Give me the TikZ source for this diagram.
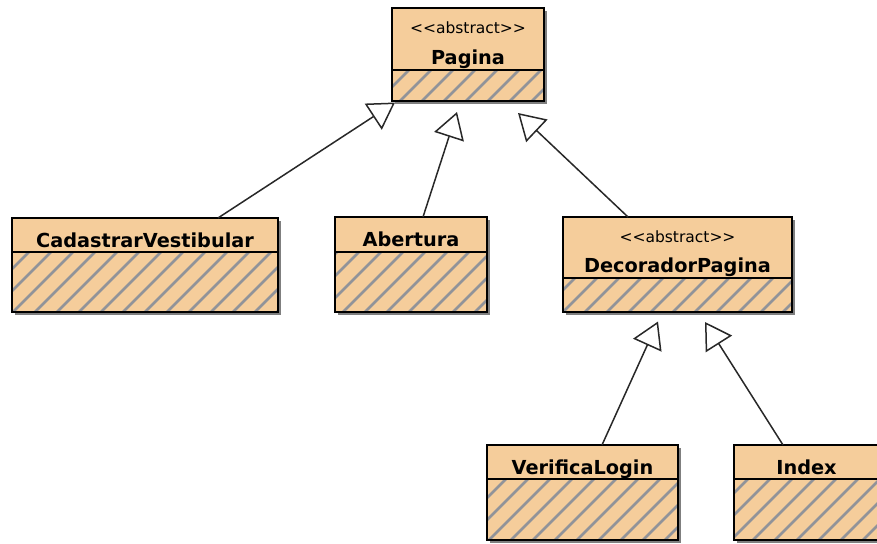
\documentclass[tikz,border=0pt]{standalone}
\usepackage{fontspec}
\setmainfont{DejaVu Sans}
\usetikzlibrary{arrows.meta,calc,shadows}

\definecolor{classfill}{RGB}{245,205,155}
\definecolor{hatchgray}{RGB}{145,147,153}
\definecolor{edgegray}{RGB}{40,40,40}

\tikzset{
  umlbox/.style={fill=classfill, inner sep=0pt, outer sep=0pt,
    drop shadow={shadow xshift=3pt, shadow yshift=-3pt, fill=black, opacity=.5}},
  clsname/.style={font=\bfseries\fontsize{19.3}{19}\selectfont, inner sep=0pt, anchor=base},
  stereo/.style={font=\fontsize{15.5}{16}\selectfont, inner sep=0pt, anchor=base},
  hatchline/.style={draw=hatchgray, line width=2.6pt},
  boxline/.style={draw=black, line width=1.5pt},
  gen/.style={draw=edgegray, line width=1.5pt,
    -{Triangle[length=26pt, width=31pt, fill=white]}},
}

% hatched attribute compartment of a class box: #1 node name, #2 divider offset from top
\newcommand{\classbody}[2]{%
  \begin{scope}
    \clip ($(#1.north west)+(0,#2)$) rectangle (#1.south east);
    \foreach \c in {17,39,...,1450} {
      \draw[hatchline] (\c,0) -- ({\c-600},600);
    }
  \end{scope}
  \draw[boxline] ($(#1.north west)+(0,#2)$) -- ($(#1.north east)+(0,#2)$);
  \draw[boxline] (#1.north west) rectangle (#1.south east);
}

\newcommand{\stereotype}[1]{{<}{<}#1{>}{>}}

\begin{document}
\begin{tikzpicture}[x=1pt, y=-1pt]
  \clip (0,0) rectangle (877,543);
  \fill[white] (0,0) rectangle (877,543);

  % class boxes
  \node[umlbox, minimum width=152pt, minimum height=93pt] (pag) at (468,54.5) {};
  \node[umlbox, minimum width=266pt, minimum height=94pt] (cv)  at (145,265) {};
  \node[umlbox, minimum width=152pt, minimum height=95pt] (ab)  at (411,264.5) {};
  \node[umlbox, minimum width=229pt, minimum height=95pt] (dp)  at (677.5,264.5) {};
  \node[umlbox, minimum width=191pt, minimum height=95pt] (vl)  at (582.5,492.5) {};
  \node[umlbox, minimum width=145pt, minimum height=95pt] (ix)  at (806.5,492.5) {};

  \classbody{pag}{62}
  \classbody{cv}{34}
  \classbody{ab}{35}
  \classbody{dp}{61}
  \classbody{vl}{34}
  \classbody{ix}{34}

  % class headers
  \node[stereo]  (pagS) at ($(pag.north)+(0,26)$) {\stereotype{abstract}};
  \node[clsname] (pagN) at ($(pag.north)+(0,56)$) {Pagina};
  \node[clsname] (cvN)  at ($(cv.north)+(0,29)$)  {CadastrarVestibular};
  \node[clsname] (abN)  at ($(ab.north)+(0,29)$)  {Abertura};
  \node[stereo]  (dpS)  at ($(dp.north)+(0,25)$)  {\stereotype{abstract}};
  \node[clsname] (dpN)  at ($(dp.north)+(0,55)$)  {DecoradorPagina};
  \node[clsname] (vlN)  at ($(vl.north)+(0,29)$)  {VerificaLogin};
  \node[clsname] (ixN)  at ($(ix.north)+(0,29)$)  {Index};

  % generalizations
  \draw[gen] ($(cv.north)+(73,0)$)    -- ($(pag.south west)+(3,1.5)$);
  \draw[gen] ($(ab.north)+(12,0)$)    -- ($(pag.south)+(-11,11)$);
  \draw[gen] ($(dp.north)+(-49.5,0)$) -- ($(pag.south)+(50,12)$);
  \draw[gen] ($(vl.north)+(19.5,0)$)  -- ($(dp.south)+(-19.5,9.5)$);
  \draw[gen] ($(ix.north)+(-23.5,0)$) -- ($(dp.south)+(27.5,10)$);
\end{tikzpicture}
\end{document}
